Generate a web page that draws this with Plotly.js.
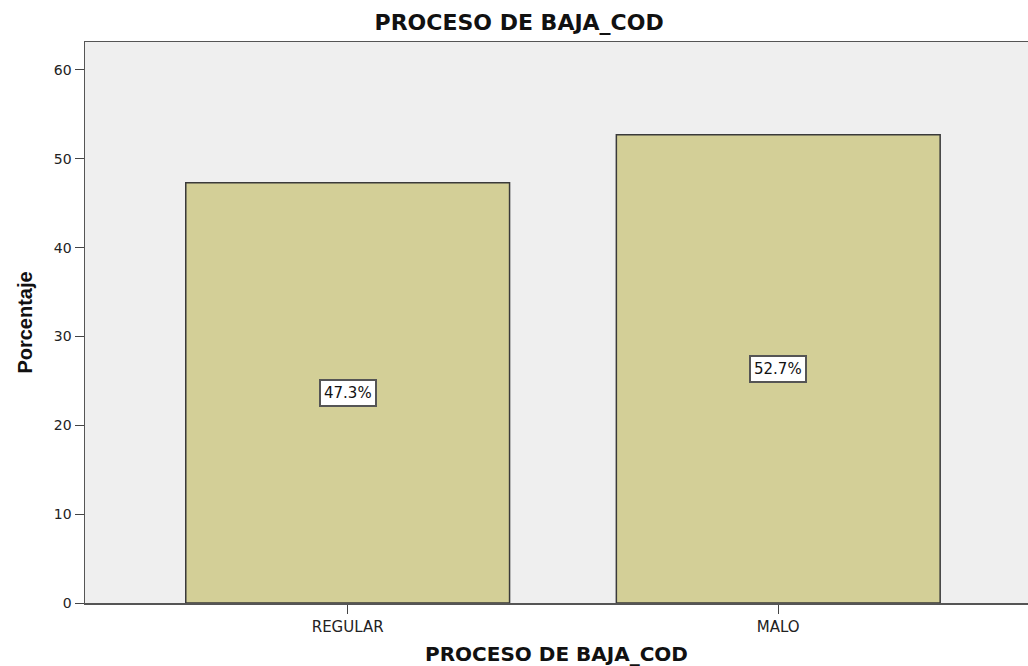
<!DOCTYPE html>
<html><head><meta charset="utf-8">
<script src="https://cdn.plot.ly/plotly-3.0.1.min.js"></script>
<style>html,body{margin:0;padding:0;background:#fff}#c{width:1028px;height:666px}</style>
</head><body><div id="c"></div>
<script>
const categories = ["REGULAR", "MALO"];
const percentages = [47.3, 52.7];
const valueLabels = ["47.3%", "52.7%"];
const yTicks = [0, 10, 20, 30, 40, 50, 60];

const F = "DejaVu Sans, Liberation Sans, Arial, sans-serif";
const trace = {
  type: "bar", x: categories, y: percentages, width: 0.752,
  marker: {color: "#d3cf97", line: {color: "#3a3a3a", width: 1.5}},
  hoverinfo: "none"
};
const annotations = categories.map((c, i) => ({
  x: c, y: percentages[i] / 2, xref: "x", yref: "y", text: valueLabels[i],
  showarrow: false, bgcolor: "#ffffff", bordercolor: "#555555", borderwidth: 2, borderpad: 3,
  font: {family: F, size: 15, color: "#111"}
}));
const layout = {
  width: 1028, height: 666,
  margin: {l: 85, r: 0, t: 42, b: 63},
  paper_bgcolor: "#ffffff", plot_bgcolor: "#efefef",
  showlegend: false,
  title: {text: "<b>PROCESO DE BAJA_COD</b>", x: 0.505, xanchor: "center", y: 0.966, yanchor: "middle",
    font: {family: F, size: 22, color: "#111"}},
  xaxis: {range: [-0.61, 1.58], showgrid: false, zeroline: false, showline: true, linecolor: "#555", linewidth: 1.5,
    mirror: true, ticks: "outside", ticklen: 9, tickcolor: "#444",
    tickfont: {family: F, size: 15, color: "#222"},
    title: {text: "<b>PROCESO DE BAJA_COD</b>", standoff: 14,
      font: {family: F, size: 20, color: "#111"}}},
  yaxis: {range: [0, 63.15], tickvals: yTicks, showgrid: false, zeroline: false, showline: true, linecolor: "#555",
    linewidth: 1.5, ticks: "outside", ticklen: 9, tickcolor: "#444",
    tickfont: {family: F, size: 14, color: "#222"},
    title: {text: "<b>Porcentaje</b>", standoff: 16,
      font: {family: "Liberation Sans, Arial, sans-serif", size: 20, color: "#111"}}},
  annotations: annotations
};
Plotly.newPlot("c", [trace], layout, {displayModeBar: false, staticPlot: true});
</script></body></html>
